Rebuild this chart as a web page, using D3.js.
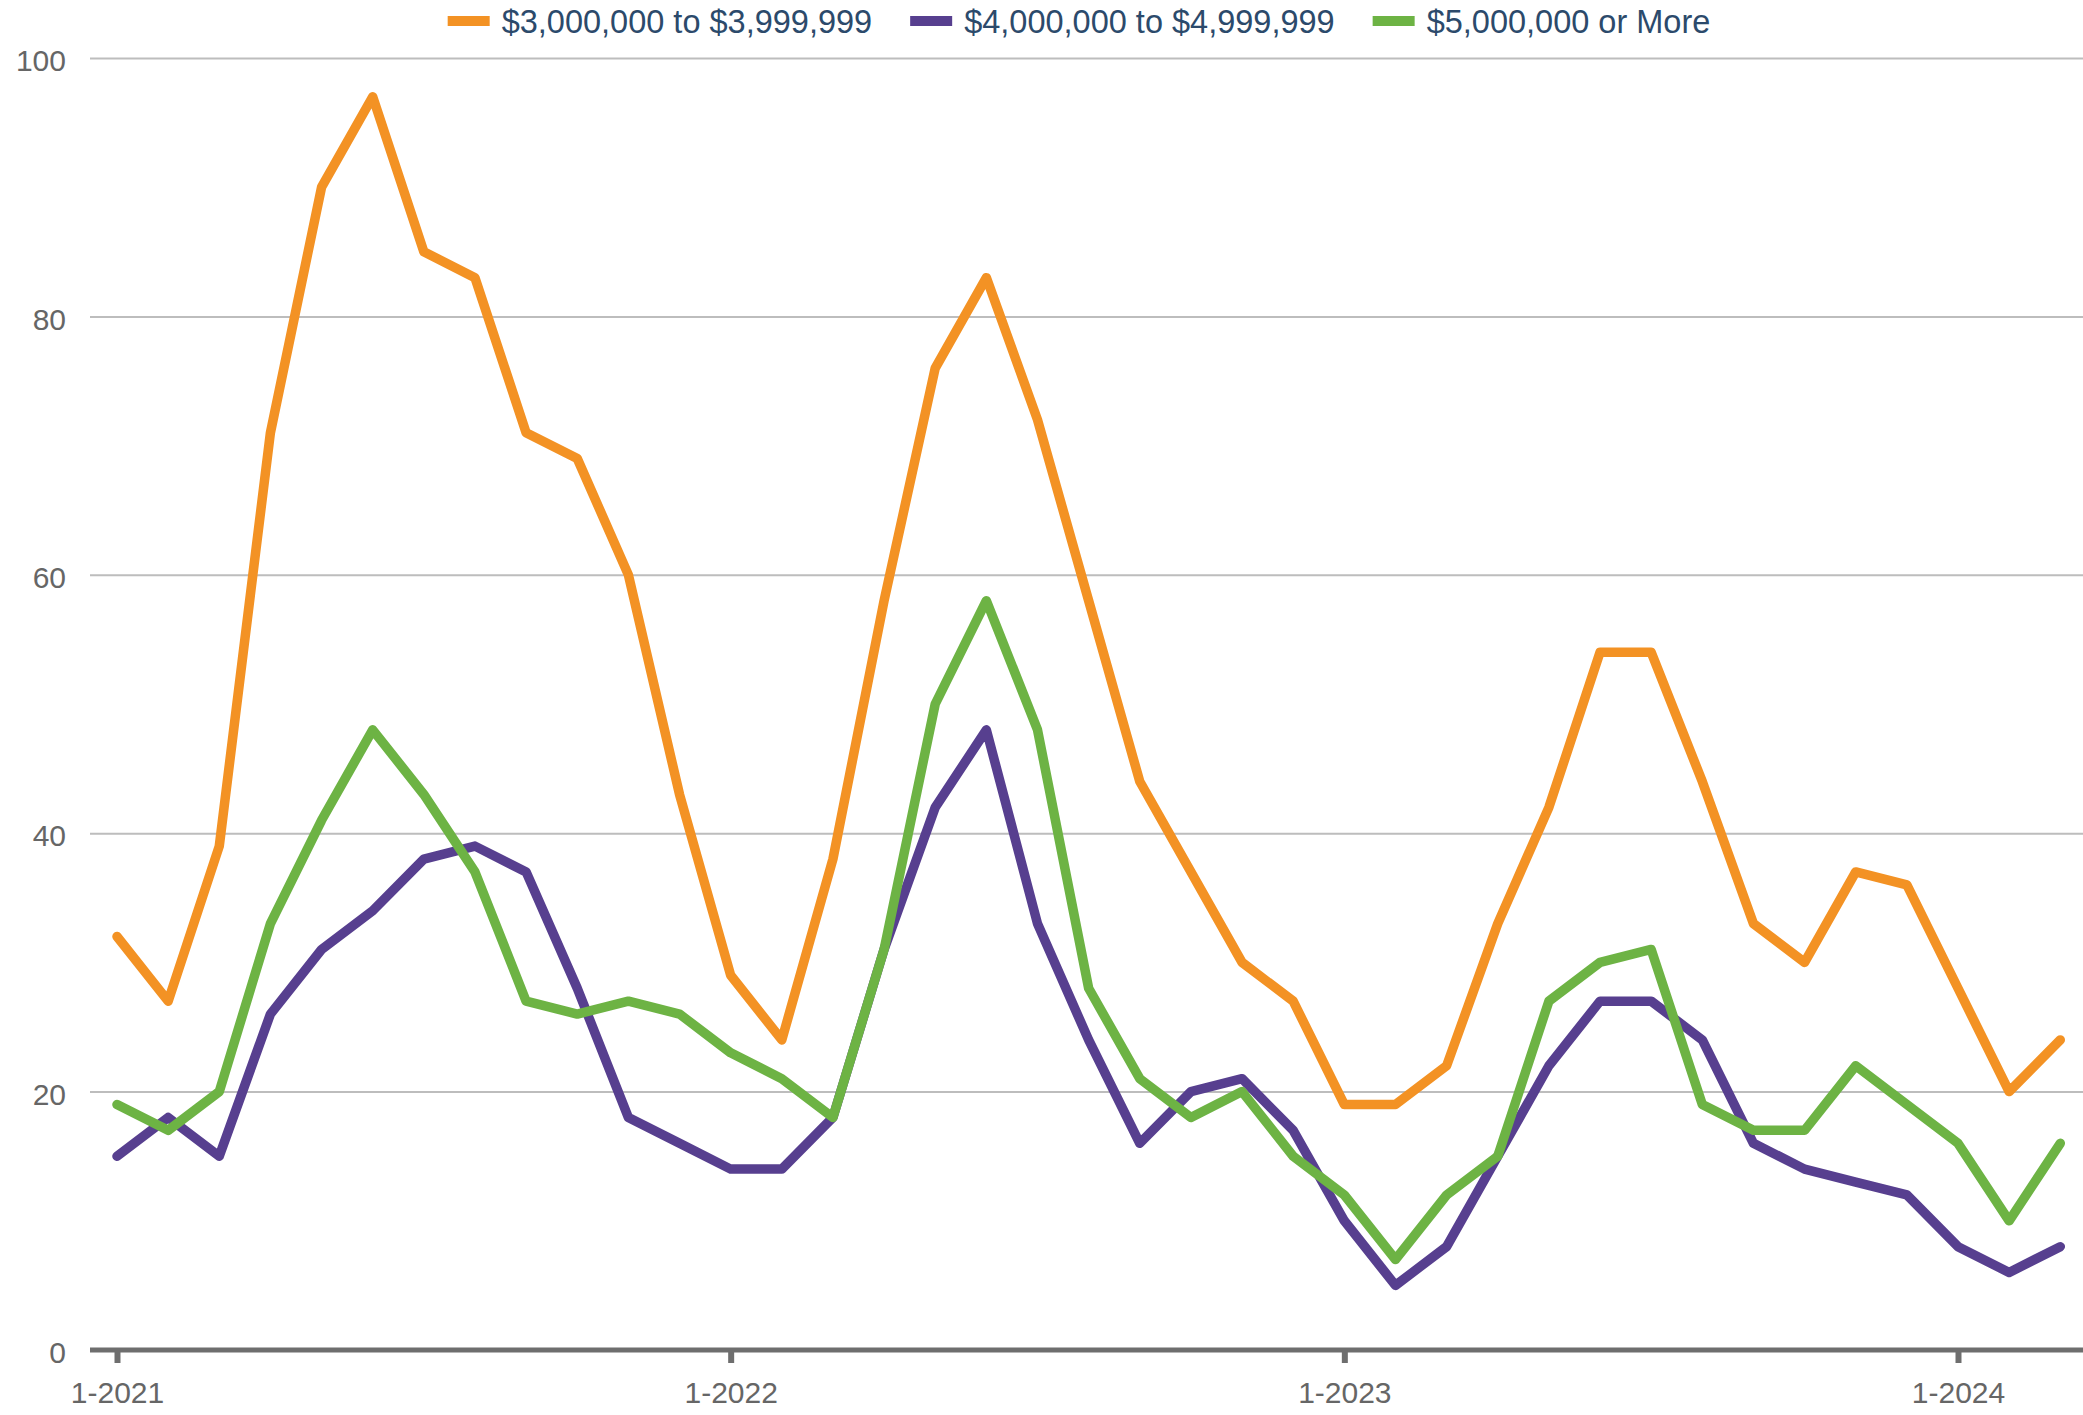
<!DOCTYPE html>
<html>
<head>
<meta charset="utf-8">
<script src="https://cdn.jsdelivr.net/npm/d3@7"></script>
<style>
  body { margin: 0; background: #fff; }
  text { font-family: "Liberation Sans", Arial, sans-serif; }
</style>
</head>
<body>
<div id="contenedor"></div>
<script>
// monthly counts, Jan 2021 .. Mar 2024
var serieNombres = ["$3,000,000 to $3,999,999", "$4,000,000 to $4,999,999", "$5,000,000 or More"]
var colores = ["#f39224", "#573f8f", "#6db344"]

var tres = [32, 27, 39, 71, 90, 97, 85, 83, 71, 69, 60, 43, 29, 24, 38, 58, 76, 83, 72, 58,
            44, 37, 30, 27, 19, 19, 22, 33, 42, 54, 54, 44, 33, 30, 37, 36, 28, 20, 24]
var cuatro = [15, 18, 15, 26, 31, 34, 38, 39, 37, 28, 18, 16, 14, 14, 18, 31, 42, 48, 33, 24,
              16, 20, 21, 17, 10, 5, 8, 15, 22, 27, 27, 24, 16, 14, 13, 12, 8, 6, 8]
var cinco = [19, 17, 20, 33, 41, 48, 43, 37, 27, 26, 27, 26, 23, 21, 18, 31, 50, 58, 48, 28,
             21, 18, 20, 15, 12, 7, 12, 15, 27, 30, 31, 19, 17, 17, 22, 19, 16, 10, 16]

var ticksX = [0, 12, 24, 36]
var etiquetasX = ["1-2021", "1-2022", "1-2023", "1-2024"]
var ticksY = [0, 20, 40, 60, 80, 100]

var ancho = 2083
var alto = 1415
var izq = 90

var escalaX = d3.scaleLinear().domain([0, 36]).range([117, 1958])
var escalaY = d3.scaleLinear().domain([0, 100]).range([1350, 58])

var svg = d3.select("#contenedor")
    .append("svg")
    .attr("width", ancho)
    .attr("height", alto)

// eje Y con lineas de rejilla
var ejeY = d3.axisLeft(escalaY)
    .tickValues(ticksY)
    .tickSize(-(ancho - izq))
    .tickPadding(24)

var gY = svg.append("g")
    .attr("transform", "translate(" + izq + ",0)")
    .call(ejeY)
gY.select(".domain").remove()
gY.selectAll(".tick line")
    .attr("stroke", "#bdbdbd")
    .attr("stroke-width", 2)
    .filter(function(d) { return d === 0 }).remove()
gY.selectAll(".tick text")
    .attr("fill", "#666")
    .attr("dy", "0.42em")
    .style("font-size", "30px")

// lineas
var series = [tres, cuatro, cinco]
var linea = d3.line()
    .x(function(d, i) { return escalaX(i) })
    .y(function(d) { return escalaY(d) })

svg.selectAll("path.serie")
    .data(series)
    .enter()
    .append("path")
    .attr("class", "serie")
    .attr("d", linea)
    .attr("fill", "none")
    .attr("stroke", function(d, i) { return colores[i] })
    .attr("stroke-width", 9.5)
    .attr("stroke-linejoin", "round")
    .attr("stroke-linecap", "round")

// eje X
var ejeX = d3.axisBottom(escalaX)
    .tickValues(ticksX)
    .tickFormat(function(d, i) { return etiquetasX[i] })
    .tickSize(13)
    .tickPadding(19)

var gX = svg.append("g")
    .attr("transform", "translate(0," + escalaY(0) + ")")
    .call(ejeX)
gX.select(".domain").remove()
gX.insert("line", ":first-child")
    .attr("x1", izq).attr("x2", ancho)
    .attr("y1", 0).attr("y2", 0)
    .attr("stroke", "#6e6e6e")
    .attr("stroke-width", 5)
gX.selectAll(".tick line")
    .attr("stroke", "#6e6e6e")
    .attr("stroke-width", 6)
gX.selectAll(".tick text")
    .attr("fill", "#666")
    .style("font-size", "30px")

// leyenda
var leyenda = svg.append("g")
var xl = 0
serieNombres.forEach(function(nombre, i) {
    var g = leyenda.append("g").attr("transform", "translate(" + xl + ",0)")
    g.append("rect")
        .attr("x", 0).attr("y", 16)
        .attr("width", 42).attr("height", 10)
        .attr("fill", colores[i])
    var t = g.append("text")
        .attr("x", 54).attr("y", 21)
        .attr("dy", "0.36em")
        .attr("fill", "#2c4a6b")
        .style("font-size", "32.5px")
        .text(nombre)
    xl += 54 + t.node().getComputedTextLength() + 38
})
var anchoLeyenda = xl - 38
leyenda.attr("transform", "translate(" + (1079 - anchoLeyenda / 2) + ",0)")
</script>
</body>
</html>
